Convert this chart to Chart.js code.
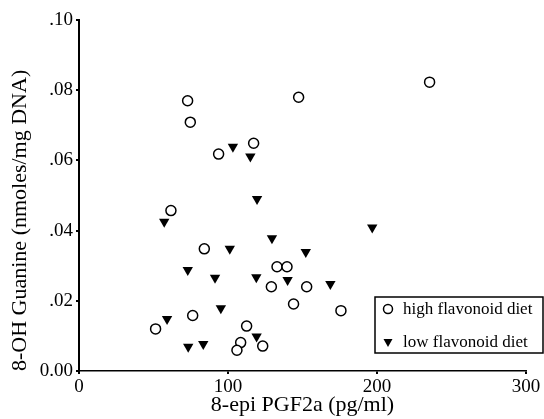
<!DOCTYPE html>
<html>
<head>
<meta charset="utf-8">
<script src="https://cdn.jsdelivr.net/npm/chart.js@4.4.1/dist/chart.umd.min.js"></script>
<style>
  html, body { margin: 0; padding: 0; background: #fff; }
  #wrap { width: 544px; height: 419px; }
</style>
</head>
<body>
<div id="wrap"><canvas id="scatterCanvas" width="544" height="419"></canvas></div>
<script>
// values
const highX = [72.9, 74.7, 93.7, 117.2, 147.4, 235.3, 61.7, 51.4, 84.1, 76.3,
               112.5, 108.5, 106.0, 123.3, 132.9, 139.6, 129.1, 144.0, 152.8, 175.8];
const highY = [0.0770, 0.0709, 0.0618, 0.0649, 0.0780, 0.0823, 0.0457, 0.0120, 0.0348, 0.0158,
               0.0128, 0.0081, 0.0059, 0.0071, 0.0297, 0.0297, 0.0240, 0.0191, 0.0240, 0.0172];

const lowX = [57.2, 59.1, 73.0, 73.3, 83.4, 91.3, 95.2, 101.2, 103.3, 115.0,
              119.5, 119.2, 119.0, 129.5, 140.0, 152.2, 168.7, 196.8];
const lowY = [0.0425, 0.0148, 0.0288, 0.0069, 0.0077, 0.0266, 0.0179, 0.0348, 0.0639, 0.0611,
              0.0490, 0.0098, 0.0267, 0.0378, 0.0259, 0.0339, 0.0248, 0.0409];

const seriesLabels = ['high flavonoid diet', 'low flavonoid diet'];
const xTicks = [0, 100, 200, 300];
const yTicks = [0, 0.02, 0.04, 0.06, 0.08, 0.10];
const yTickLabels = ['0.00', '.02', '.04', '.06', '.08', '.10'];

const serif = "'Liberation Serif', 'DejaVu Serif', serif";

function toPoints(xs, ys) {
    return xs.map((x, i) => ({ x: x, y: ys[i] }));
}

// legend box sitting in the lower right corner of the plot
const boxLegend = {
    id: 'boxLegend',
    afterDraw(chart) {
        const ctx = chart.ctx;
        const area = chart.chartArea;
        const w = 168, h = 56;
        const left = chart.width - w - 1;
        const top = area.bottom - 74;

        ctx.save();
        ctx.strokeStyle = '#000';
        ctx.lineWidth = 1.5;
        ctx.strokeRect(left, top, w, h);

        ctx.font = '17px ' + serif;
        ctx.fillStyle = '#000';
        ctx.textBaseline = 'middle';
        ctx.textAlign = 'left';

        const rows = [top + 12, top + 45];
        chart.data.datasets.forEach((ds, i) => {
            const cx = left + 13, cy = rows[i];
            ctx.beginPath();
            if (ds.pointStyle === 'circle') {
                ctx.arc(cx, cy, 4.5, 0, Math.PI * 2);
                ctx.lineWidth = 1.5;
                ctx.fillStyle = '#fff';
                ctx.fill();
                ctx.stroke();
            } else {
                ctx.moveTo(cx - 4.5, cy - 3);
                ctx.lineTo(cx + 4.5, cy - 3);
                ctx.lineTo(cx, cy + 5);
                ctx.closePath();
                ctx.fillStyle = '#000';
                ctx.fill();
            }
            ctx.fillStyle = '#000';
            ctx.fillText(ds.label, left + 28, cy + 1);
        });
        ctx.restore();
    }
};

const ctx = document.getElementById('scatterCanvas').getContext('2d');
new Chart(ctx, {
    type: 'scatter',
    data: {
        datasets: [{
            label: seriesLabels[0],
            data: toPoints(highX, highY),
            pointStyle: 'circle',
            pointRadius: 5,
            pointBorderWidth: 1.5,
            pointBackgroundColor: '#fff',
            pointBorderColor: '#000'
        }, {
            label: seriesLabels[1],
            data: toPoints(lowX, lowY),
            pointStyle: 'triangle',
            pointRotation: 180,
            pointRadius: 6,
            pointBorderWidth: 0,
            pointBackgroundColor: '#000',
            pointBorderColor: '#000'
        }]
    },
    options: {
        responsive: false,
        animation: false,
        layout: { padding: { top: 20, right: 18, left: 0, bottom: 0 } },
        plugins: {
            legend: { display: false },
            tooltip: { enabled: false }
        },
        scales: {
            x: {
                type: 'linear',
                min: 0,
                max: 300,
                afterBuildTicks: (scale) => { scale.ticks = xTicks.map(v => ({ value: v })); },
                afterFit: (scale) => { scale.height = 48; },
                border: { display: true, color: '#000', width: 1.5 },
                grid: { drawOnChartArea: false, drawTicks: true, tickLength: 3, color: '#000', lineWidth: 2 },
                ticks: {
                    color: '#000',
                    padding: 2,
                    font: { family: serif, size: 19 },
                    callback: (v) => String(v)
                },
                title: {
                    display: true,
                    text: '8-epi PGF2a (pg/ml)',
                    color: '#000',
                    font: { family: serif, size: 22 },
                    padding: { top: 0, bottom: 1 }
                }
            },
            y: {
                type: 'linear',
                min: 0,
                max: 0.10,
                afterBuildTicks: (scale) => { scale.ticks = yTicks.map(v => ({ value: v })); },
                afterFit: (scale) => { scale.width = 79; },
                border: { display: true, color: '#000', width: 2 },
                grid: { drawOnChartArea: false, drawTicks: true, tickLength: 3, color: '#000', lineWidth: 2 },
                ticks: {
                    color: '#000',
                    padding: 3,
                    font: { family: serif, size: 19 },
                    callback: (v, i) => yTickLabels[i]
                },
                title: {
                    display: true,
                    text: '8-OH Guanine (nmoles/mg DNA)',
                    align: 'start',
                    color: '#000',
                    font: { family: serif, size: 22 },
                    padding: { top: 7, bottom: 0 }
                }
            }
        }
    },
    plugins: [boxLegend]
});
</script>
</body>
</html>
